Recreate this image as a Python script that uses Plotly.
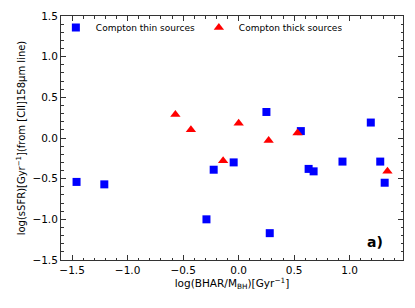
import plotly.graph_objects as go

thin_x = [-1.46, -1.21, -0.29, -0.225, -0.045, 0.28, 0.63, 0.675, 0.935, 1.275, 1.315, 0.25, 0.56, 1.19]
thin_y = [-0.54, -0.57, -1.0, -0.39, -0.30, -1.17, -0.38, -0.41, -0.29, -0.29, -0.55, 0.32, 0.085, 0.19]
thick_x = [-0.57, -0.43, 0.0, 0.27, 0.53, -0.14, 1.34]
thick_y = [0.29, 0.10, 0.18, -0.03, 0.06, -0.28, -0.41]

x_range = [-1.6, 1.48]
y_range = [-1.5, 1.5]
x_ticks = [-1.5, -1.0, -0.5, 0.0, 0.5, 1.0]
y_ticks = [-1.5, -1.0, -0.5, 0.0, 0.5, 1.0, 1.5]

fig = go.Figure()
fig.add_trace(go.Scatter(x=thin_x, y=thin_y, mode="markers", name="Compton thin sources",
                         marker=dict(symbol="square", size=8, color="#0000ff")))
fig.add_trace(go.Scatter(x=thick_x, y=thick_y, mode="markers", name="Compton thick sources",
                         marker=dict(symbol="triangle-up", size=9, color="#ff0000")))

axis_common = dict(showgrid=False, zeroline=False, showline=True, linecolor="#333333", linewidth=1,
                   mirror="ticks", ticks="inside", ticklen=5, tickcolor="#333333",
                   tickfont=dict(size=10.5, color="black"), automargin=False,
                   minor=dict(ticks="inside", ticklen=2.5, dtick=0.1, tickcolor="#333333"))

fig.update_xaxes(range=x_range, tickvals=x_ticks, ticktext=["\u22121.5", "\u22121.0", "\u22120.5", "0.0", "0.5", "1.0"],
                 title=dict(text="log(BHAR/M<sub>BH</sub>)[Gyr<sup>\u22121</sup>]", font=dict(size=10.5), standoff=2),
                 **axis_common)
fig.update_yaxes(range=y_range, tickvals=y_ticks, ticktext=["\u22121.5", "\u22121.0", "\u22120.5", "0.0", "0.5", "1.0", "1.5"],
                 title=dict(text="log(sSFR)[Gyr<sup>\u22121</sup>](from [CII]158\u03bcm line)", font=dict(size=10), standoff=4),
                 **axis_common)

fig.add_annotation(x=0.947, y=0.074, xref="paper", yref="paper", text="<b>a)</b>", showarrow=False,
                   font=dict(size=14, color="black"), xanchor="right", yanchor="middle")

fig.update_layout(width=415, height=308, margin=dict(l=61, r=12, t=16, b=48, autoexpand=False),
                  plot_bgcolor="white", paper_bgcolor="white",
                  font=dict(family="DejaVu Sans", size=10, color="black"),
                  legend=dict(orientation="h", x=-0.015, y=1.012, xanchor="left", yanchor="top",
                              bgcolor="rgba(0,0,0,0)", font=dict(size=9), itemwidth=30,
                              entrywidth=98, entrywidthmode="pixels", tracegroupgap=0),
                  showlegend=True)

fig.write_html("out.html", config={"displayModeBar": False},
               post_script="document.body.style.margin='0';")
